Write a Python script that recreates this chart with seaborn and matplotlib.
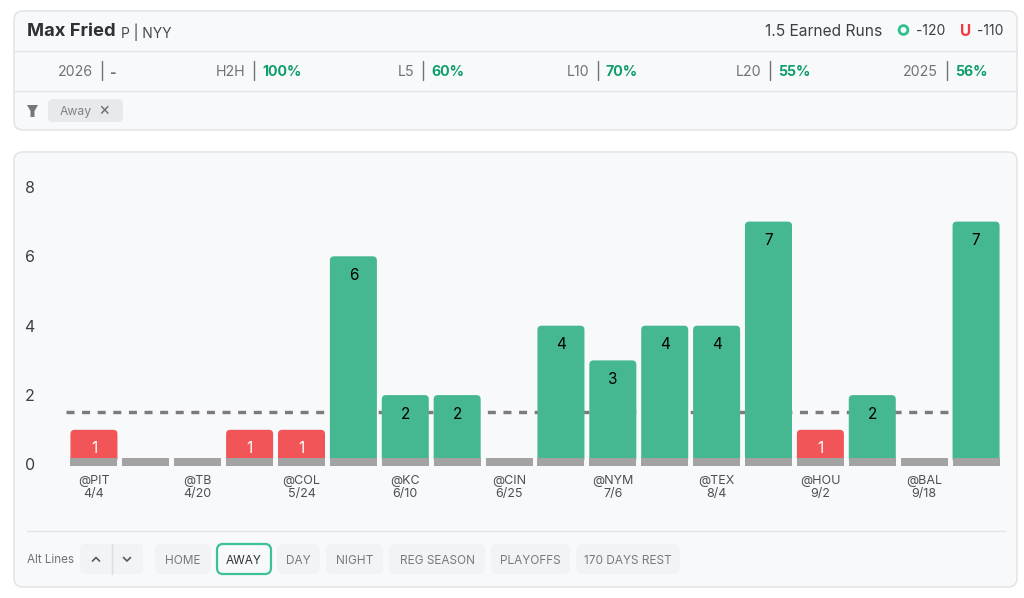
# Max Fried earned runs card, rebuilt with seaborn
import matplotlib
matplotlib.use("Agg")
import matplotlib.pyplot as plt
from matplotlib.patches import FancyBboxPatch, Circle, Polygon
import pandas as pd
import seaborn as sns

# --- data ---
games = list(range(18))
earned_runs = [1, 0, 0, 1, 1, 6, 2, 2, 0, 4, 3, 4, 4, 7, 1, 2, 0, 7]
game_labels = ["@PIT\n4/4", "", "@TB\n4/20", "", "@COL\n5/24", "", "@KC\n6/10", "", "@CIN\n6/25",
               "", "@NYM\n7/6", "", "@TEX\n8/4", "", "@HOU\n9/2", "", "@BAL\n9/18", ""]
y_ticks = [0, 2, 4, 6, 8]
prop_line = 1.5

stat_names = ["2026", "H2H", "L5", "L10", "L20", "2025"]
stat_values = ["-", "100%", "60%", "70%", "55%", "56%"]
stat_right = [93, 245, 414, 589, 761, 938]

button_names = ["HOME", "AWAY", "DAY", "NIGHT", "REG SEASON", "PLAYOFFS", "170 DAYS REST"]
button_left = [155, 217, 277, 326, 389, 491, 576]
button_right = [211, 271, 320, 383, 485, 570, 680]

GREEN = "#45b791"
RED = "#f25558"
STUB = "#a3a3a3"
CARD = "#f8f9fb"
EDGE = "#e2e3e6"
DARK = "#2f3136"
GREY = "#6f7175"
PCT = "#0f9d6b"
PX = 0.72  # points per pixel at dpi 100

sns.set_theme(style="white")
plt.rcParams["font.family"] = ["Inter", "DejaVu Sans"]

fig = plt.figure(figsize=(10.24, 5.98), dpi=100, facecolor="white")

# --- page furniture, in pixel coordinates ---
bg = fig.add_axes([0, 0, 1, 1], zorder=0)
bg.set_xlim(0, 1024)
bg.set_ylim(598, 0)
bg.axis("off")


def box(x0, y0, x1, y1, r=6, face=CARD, edge=EDGE, lw=1.0):
    bg.add_patch(FancyBboxPatch((x0, y0), x1 - x0, y1 - y0,
                                boxstyle=f"round,pad=0,rounding_size={r}",
                                fc=face, ec=edge, lw=lw))


box(14, 11, 1017, 130, r=9, lw=1.1)
box(14, 152, 1017, 587, r=9, lw=1.1)
bg.plot([14, 1017], [51, 51], color=EDGE, lw=1.0)
bg.plot([14, 1017], [90.5, 90.5], color=EDGE, lw=1.0)
bg.plot([27, 1005], [531, 531], color=EDGE, lw=0.9)

# header
bg.text(27, 31.5, "Max Fried", fontsize=13.2, fontweight="bold", color=DARK, va="center")
bg.text(121, 32, "P | NYY", fontsize=10, color="#45474b", va="center")
bg.text(882, 31, "1.5 Earned Runs", fontsize=11.2, color="#3d3f43", va="center", ha="right")
bg.add_patch(Circle((903.5, 30), 4.4, fc="none", ec="#2fc08d", lw=2.0))
bg.text(945, 31, "-120", fontsize=10, color="#3d3f43", va="center", ha="right")
bg.text(966, 31, "U", fontsize=11, fontweight="bold", color="#ef3b40", va="center", ha="center")
bg.text(1004, 31, "-110", fontsize=10, color="#3d3f43", va="center", ha="right")

# stat row
for name, value, right in zip(stat_names, stat_values, stat_right):
    bg.text(right, 72.5, name, fontsize=10.2, color=GREY, va="center", ha="right")
    bg.plot([right + 8.5, right + 8.5], [61, 80], color=GREY, lw=1.0)
    bg.text(right + 17, 72.5, value, fontsize=10.2, fontweight="bold",
            color=PCT if value != "-" else GREY, va="center")

# filter row
bg.add_patch(Polygon([(27, 105), (38, 105), (34.5, 111), (34.5, 117), (30.5, 117), (30.5, 111)],
                     fc="#75777b", ec="none"))
box(48, 99, 123, 122, r=5, face="#e8e9eb", edge="none", lw=0)
bg.text(60, 111.5, "Away", fontsize=8.8, color="#808286", va="center")
bg.text(104, 110.5, "×", fontsize=12.5, color="#6b6d71", va="center", ha="center")

# bottom controls
bg.text(27, 560, "Alt Lines", fontsize=8.4, color=GREY, va="center")
box(80, 544, 143, 574, r=5, face="#f2f3f5", edge="none", lw=0)
bg.plot([112, 112], [544, 574], color="#dcdde0", lw=1.0)
bg.plot([92.5, 96, 99.5], [561, 557.5, 561], color="#55575b", lw=1.2)
bg.plot([123.5, 127, 130.5], [557.5, 561, 557.5], color="#55575b", lw=1.2)
for name, left, right in zip(button_names, button_left, button_right):
    active = name == "AWAY"
    if active:
        box(left, 544, right, 574, r=6, face=CARD, edge="#3cc098", lw=1.6)
    else:
        box(left, 544, right, 574, r=6, face="#f2f3f5", edge="none", lw=0)
    bg.text((left + right) / 2, 560.5, name, fontsize=8.5, va="center", ha="center",
            color="#303236" if active else "#77797d")

# --- the chart itself ---
ax = fig.add_axes([68 / 1024, 1 - 470 / 598, 934 / 1024, 290 / 598], zorder=1)
ax.patch.set_visible(False)

df = pd.DataFrame({"game": games, "er": earned_runs})
df["result"] = ["over" if v > prop_line else "under" for v in earned_runs]
df["stub"] = 0.23

ax.axhline(prop_line, xmin=-0.002, color="#7b7b7d", lw=3.4 * PX, dashes=(2.35, 2.24),
           dash_capstyle="butt", clip_on=False, zorder=1)

sns.barplot(data=df, x="game", y="er", hue="result", hue_order=["over", "under"],
            palette={"over": GREEN, "under": RED}, dodge=False, width=0.906,
            legend=False, saturation=1, ax=ax, zorder=2)

# labels first, then swap the square bars for rounded ones
for cont, txt_color in zip(ax.containers, ["black", "white"]):
    labels = [f"{b.get_height():.0f}" if b.get_height() > 0 else "" for b in cont]
    ax.bar_label(cont, labels=labels, padding=-26.5 * PX, fontsize=11, color=txt_color, zorder=5)
    for b in cont:
        b.set_visible(False)
        if b.get_height() > 0:
            # start a little above zero, the grey stub covers the foot of the bar
            ax.add_patch(FancyBboxPatch((b.get_x(), 0.05), b.get_width(), b.get_height() - 0.05,
                                        boxstyle="round,pad=0,rounding_size=0.08",
                                        mutation_aspect=1.5, fc=b.get_facecolor(), ec="none", zorder=2))

sns.barplot(data=df, x="game", y="stub", color=STUB, width=0.906, saturation=1,
            bottom=-0.045, edgecolor="none", linewidth=0, ax=ax, zorder=3)

ax.set_xlim(-0.5, 17.5)
ax.set_ylim(-5.5 / 34.7, 284.5 / 34.7)
ax.set_xticks(games)
ax.set_xticklabels(game_labels, fontsize=9, color="#4d4f53", linespacing=1.12)
ax.set_yticks(y_ticks)
ax.set_yticklabels(y_ticks, fontsize=11.5, color="#3d3f43")
ax.tick_params(axis="both", length=0)
ax.tick_params(axis="x", pad=3.5)
ax.tick_params(axis="y", pad=24)
ax.set_xlabel("")
ax.set_ylabel("")
sns.despine(ax=ax, left=True, bottom=True)

fig.savefig("out.png", dpi=100, facecolor="white")
